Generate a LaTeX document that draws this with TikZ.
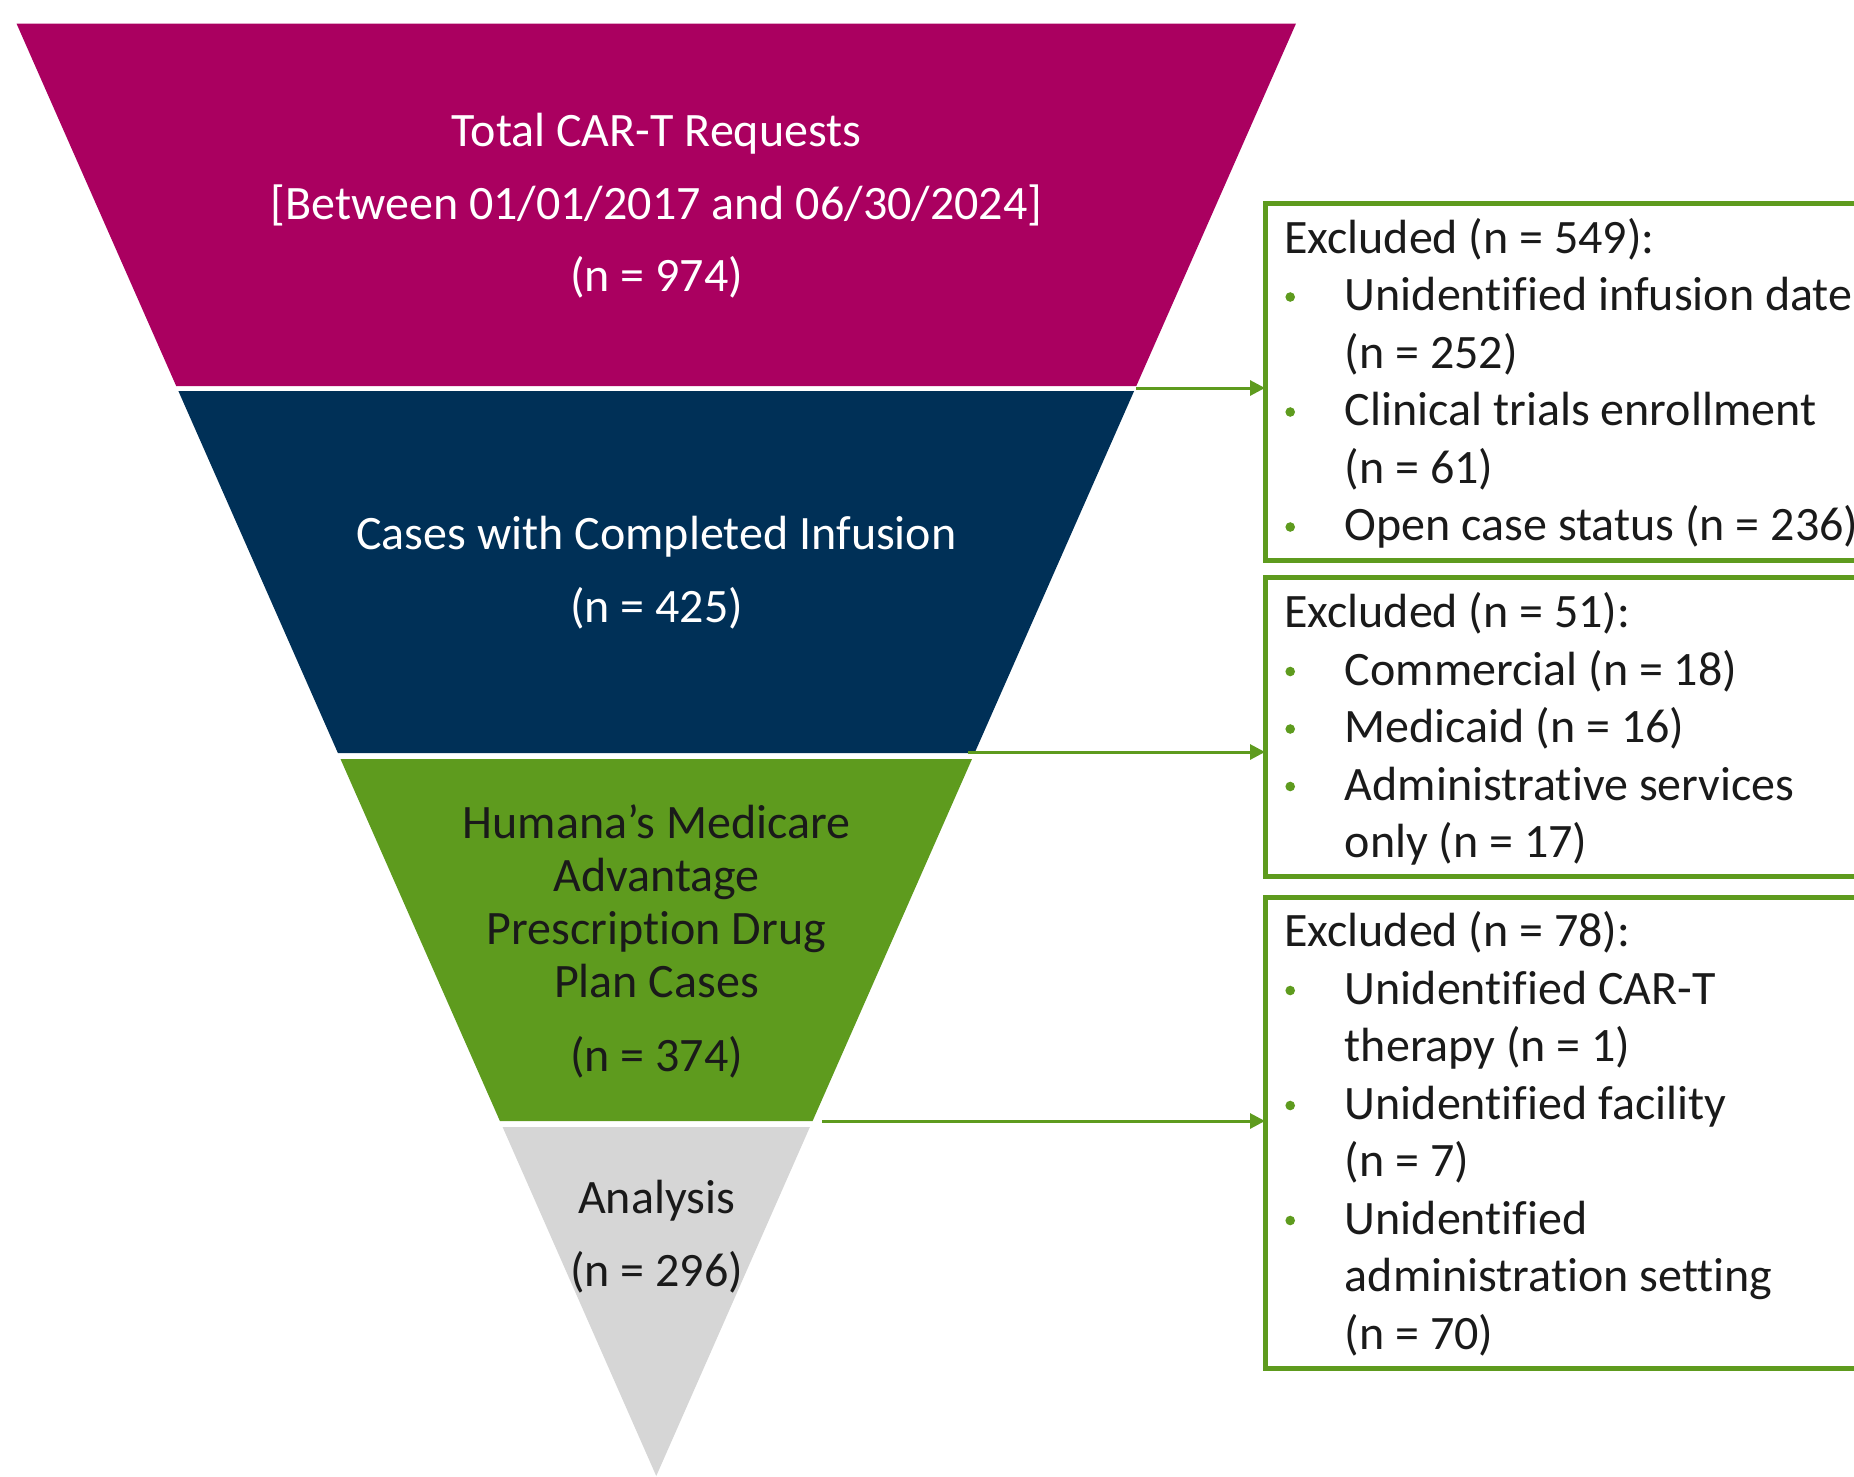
\documentclass[tikz,border=0pt]{standalone}
\usepackage{fontspec}
\setmainfont{Carlito}[Ligatures=NoCommon]
\usetikzlibrary{arrows.meta}

\definecolor{bandmagenta}{RGB}{170,0,96}
\definecolor{bandnavy}{RGB}{0,48,87}
\definecolor{bandgreen}{RGB}{94,155,30}
\definecolor{bandgray}{RGB}{214,214,214}
\definecolor{exgreen}{RGB}{94,155,30}
\definecolor{textdark}{RGB}{26,26,26}

% small green bullet, centred 13.7pt above the baseline
\newcommand\gbul{\tikz[x=1pt,y=1pt,baseline={(0pt,-13.7pt)}]\fill[exgreen] (0pt,0pt) circle[radius=4.8pt];}
\newcommand\bcell{\makebox[60.6pt][l]{\hspace*{1.2pt}\gbul}}

\tikzset{
  bandtext/.style={anchor=base, inner sep=0pt, font=\fontsize{48}{57.5}\selectfont},
  exbox/.style={draw=exgreen, line width=5pt, outer sep=0pt, inner sep=0pt,
                anchor=north west, minimum width=700pt},
  extext/.style={anchor=north west, inner sep=0pt, text=textdark,
                 font=\fontsize{48}{57.5}\selectfont},
  exarrow/.style={draw=exgreen, line width=3pt, -{Triangle[length=15pt,width=15pt]}},
}

\begin{document}
\begin{tikzpicture}[x=1pt,y=-1pt]
\useasboundingbox (0,0) rectangle (1854,1476);
\begin{scope}
\clip (0,0) rectangle (1854,1476);

% funnel bands (one triangle cut into four slices)
\fill[bandmagenta] (16.5,23.5) -- (1296,23.5) -- (1136.3,386) -- (176.2,386) -- cycle;
\fill[bandnavy]    (178.4,391) -- (1134.1,391) -- (974.6,753) -- (337.9,753) -- cycle;
\fill[bandgreen]   (340.5,759) -- (972.0,759) -- (812.6,1121) -- (499.9,1121) -- cycle;
\fill[bandgray]    (502.6,1127) -- (809.9,1127) -- (656.25,1476) -- cycle;

% band labels
\node[bandtext, text=white] (t1a) at (656.5,146.5) {Total CAR-T Requests};
\node[bandtext, text=white] (t1b) at (656.5,219) {[Between 01/01/2017 and 06/30/2024]};
\node[bandtext, text=white] (t1c) at (656.5,291.5) {(n = 974)};
\node[bandtext, text=white] (t2a) at (656.5,549.5) {Cases with Completed Infusion};
\node[bandtext, text=white] (t2b) at (656.5,622.5) {(n = 425)};
\node[bandtext, text=textdark] (t3a) at (656.5,838) {Humana’s Medicare};
\node[bandtext, text=textdark] (t3b) at (656.5,891) {Advantage};
\node[bandtext, text=textdark] (t3c) at (656.5,944) {Prescription Drug};
\node[bandtext, text=textdark] (t3d) at (656.5,997.5) {Plan Cases};
\node[bandtext, text=textdark] (t3e) at (656.5,1071) {(n = 374)};
\node[bandtext, text=textdark] (t4a) at (656.5,1213) {Analysis};
\node[bandtext, text=textdark] (t4b) at (656.5,1286) {(n = 296)};

% exclusion boxes
\node[exbox, minimum height=357pt] (box1) at (1265,203) {};
\node[exbox, minimum height=299.5pt] (box2) at (1265,577) {};
\node[exbox, minimum height=471pt] (box3) at (1265,897) {};

\node[extext] (ex1) at (1284,212.75) {%
\begin{tabular}{@{}l@{}l@{}}
\multicolumn{2}{@{}l@{}}{Excluded (n = 549):}\\
\bcell & Unidentified infusion date\\
       & (n = 252)\\
\bcell & Clinical trials enrollment\\
       & (n = 61)\\
\bcell & Open case status (n = 236)
\end{tabular}};

\node[extext] (ex2) at (1284,587.25) {%
\begin{tabular}{@{}l@{}l@{}}
\multicolumn{2}{@{}l@{}}{Excluded (n = 51):}\\
\bcell & Commercial (n = 18)\\
\bcell & Medicaid (n = 16)\\
\bcell & Administrative services\\
       & only (n = 17)
\end{tabular}};

\node[extext] (ex3) at (1284,906.25) {%
\begin{tabular}{@{}l@{}l@{}}
\multicolumn{2}{@{}l@{}}{Excluded (n = 78):}\\
\bcell & Unidentified CAR-T\\
       & therapy (n = 1)\\
\bcell & Unidentified facility\\
       & (n = 7)\\
\bcell & Unidentified\\
       & administration setting\\
       & (n = 70)
\end{tabular}};

% connectors from the band boundaries to the boxes
\coordinate (s1) at (1136,388);
\coordinate (s2) at (968,752);
\coordinate (s3) at (822,1121);
\draw[exarrow] (s1) -- (s1 -| box1.west);
\draw[exarrow] (s2) -- (s2 -| box2.west);
\draw[exarrow] (s3) -- (s3 -| box3.west);
\end{scope}
\end{tikzpicture}
\end{document}
